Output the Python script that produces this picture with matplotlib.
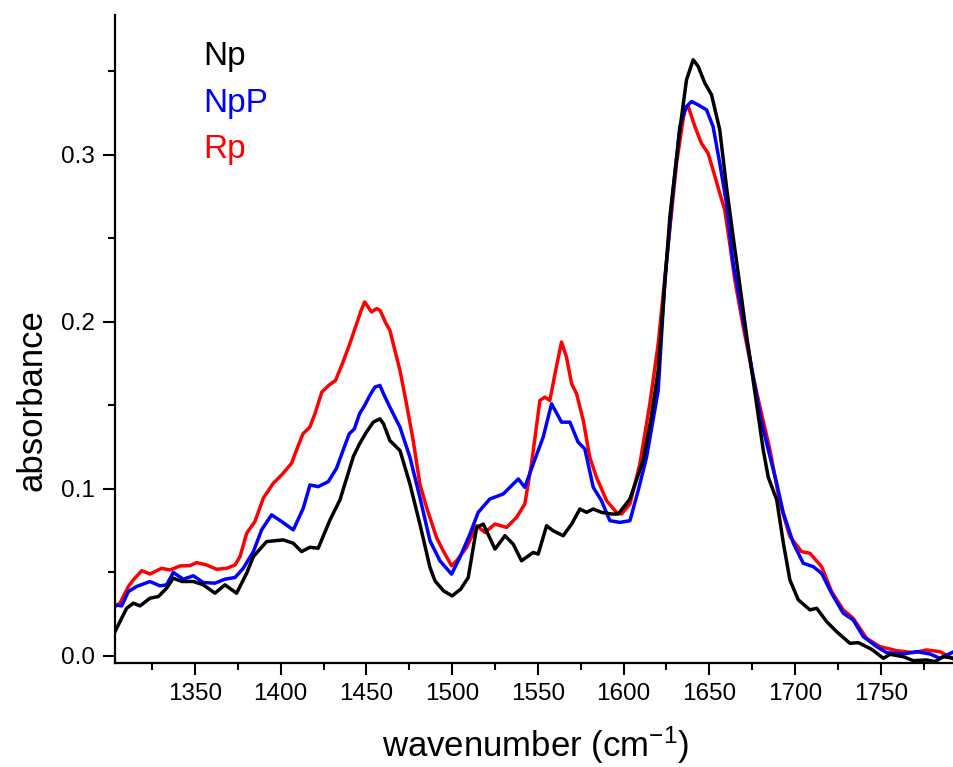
import matplotlib
matplotlib.use("Agg")
import matplotlib.pyplot as plt
from matplotlib.ticker import MultipleLocator, FormatStrFormatter

plt.rcParams['font.family'] = ['Liberation Sans', 'DejaVu Sans']
plt.rcParams['mathtext.default'] = 'regular'

# Np (black)
wn_np = [1303.4, 1310.2, 1314.1, 1318.0, 1323.8, 1328.7, 1333.5, 1337.4, 1342.3, 1349.1,
         1354.9, 1361.7, 1367.5, 1374.3, 1380.2, 1384.1, 1391.8, 1401.5, 1407.4, 1412.2,
         1417.1, 1421.9, 1428.8, 1434.6, 1442.4, 1446, 1450, 1454, 1457.9, 1460,
         1463.7, 1469.6, 1475.4, 1481.2, 1487.1, 1490.0, 1495, 1500, 1505, 1509.4,
         1514.3, 1518.2, 1525.0, 1530.8, 1535.6, 1540.5, 1547.3, 1550.2, 1555.1, 1558.9,
         1564.8, 1569.7, 1574.5, 1578.4, 1582.3, 1587.1, 1593.0, 1596.9, 1603.7, 1611.4,
         1616, 1620.2, 1627.0, 1632.8, 1636.7, 1640.6, 1643.5, 1647.4, 1651.3, 1656.1,
         1660.0, 1663.9, 1667.4, 1672, 1677, 1681.5, 1684.4, 1689.3, 1693.2, 1697.0,
         1701.9, 1708.7, 1712.6, 1718.4, 1724.2, 1732.0, 1736.9, 1744.7, 1751.5, 1755.3,
         1763.1, 1768.9, 1776.7, 1781.6, 1786.4, 1792.7]
abs_np = [0.0146, 0.0286, 0.0316, 0.0300, 0.0346, 0.0356, 0.0406, 0.0466, 0.0446, 0.0446,
          0.0426, 0.0376, 0.0426, 0.0376, 0.0496, 0.0595, 0.0685, 0.0695, 0.0675, 0.0625,
          0.0651, 0.0645, 0.0815, 0.0935, 0.1194, 0.127, 0.134, 0.140, 0.142, 0.139,
          0.129, 0.123, 0.103, 0.079, 0.053, 0.045, 0.039, 0.036, 0.040, 0.047,
          0.077, 0.079, 0.064, 0.072, 0.067, 0.057, 0.062, 0.061, 0.078, 0.075,
          0.072, 0.079, 0.088, 0.086, 0.088, 0.086, 0.085, 0.085, 0.094, 0.117,
          0.142, 0.171, 0.263, 0.315, 0.345, 0.357, 0.353, 0.343, 0.336, 0.315,
          0.281, 0.251, 0.225, 0.190, 0.155, 0.123, 0.107, 0.0935, 0.0675, 0.0455,
          0.0336, 0.0276, 0.0286, 0.0206, 0.0146, 0.0076, 0.0080, 0.0040, -0.0014, 0.0010,
          -0.0004, -0.0028, -0.0024, -0.0034, -0.0004, -0.0014]

# NpP (blue)
wn_npp = [1303.4, 1307.3, 1311.2, 1316.0, 1323.8, 1329.6, 1333.5, 1337.4, 1343.2, 1349.1,
          1354.9, 1361.7, 1367.5, 1373.4, 1378.2, 1384.1, 1388.9, 1394.7, 1400.6, 1407.4,
          1413.2, 1417.1, 1421.9, 1427.8, 1432.6, 1436.5, 1440, 1443, 1446, 1449,
          1452, 1455, 1457.9, 1460, 1463.7, 1469.6, 1475.4, 1481.2, 1487.1, 1492.9,
          1499.7, 1504.5, 1510.4, 1515.2, 1522.0, 1529.8, 1534.7, 1538.6, 1542.4, 1547.3,
          1553.1, 1558.0, 1563.8, 1568.7, 1573.5, 1577.4, 1582.3, 1587.1, 1592.0, 1597.8,
          1603.7, 1608.5, 1613.4, 1620.2, 1624.1, 1628.9, 1632.8, 1636.7, 1639.6, 1643.5,
          1648.4, 1652.2, 1656.1, 1660.0, 1663.9, 1670, 1676, 1680, 1684.4, 1689.3,
          1693.2, 1699.0, 1704.8, 1710.6, 1715.5, 1721.3, 1728.1, 1733.9, 1739.8, 1747.6,
          1753.4, 1763.1, 1770.9, 1778.7, 1784.5, 1792.7]
abs_npp = [0.0306, 0.0300, 0.0386, 0.0416, 0.0446, 0.0420, 0.0426, 0.0500, 0.0460, 0.0480,
           0.0440, 0.0436, 0.0460, 0.0470, 0.0525, 0.0625, 0.0755, 0.0845, 0.0805, 0.0755,
           0.0885, 0.1024, 0.1014, 0.1044, 0.1124, 0.1234, 0.133, 0.136, 0.145, 0.150,
           0.156, 0.161, 0.162, 0.157, 0.149, 0.137, 0.119, 0.095, 0.069, 0.057,
           0.049, 0.059, 0.073, 0.086, 0.094, 0.097, 0.102, 0.106, 0.101, 0.115,
           0.131, 0.151, 0.140, 0.140, 0.128, 0.124, 0.101, 0.093, 0.081, 0.080,
           0.081, 0.099, 0.119, 0.159, 0.225, 0.279, 0.317, 0.329, 0.332, 0.330,
           0.327, 0.317, 0.295, 0.271, 0.235, 0.200, 0.165, 0.142, 0.1234, 0.1034,
           0.0855, 0.0675, 0.0555, 0.0535, 0.0495, 0.0376, 0.0256, 0.0216, 0.0116, 0.0056,
           0.0020, 0.0012, 0.0026, 0.0012, -0.0014, 0.0026]

# Rp (red)
wn_rp = [1303.4, 1306.3, 1311.2, 1314.1, 1319.0, 1323.8, 1330.6, 1335.5, 1341.3, 1347.1,
         1351.0, 1356.8, 1362.7, 1368.5, 1373.4, 1376.3, 1380.2, 1385.0, 1389.9, 1395.7,
         1400.6, 1406.4, 1409.3, 1413, 1417, 1420, 1424, 1428, 1432, 1436,
         1440, 1444, 1447, 1449, 1451, 1453, 1456, 1458, 1461, 1463.7,
         1469.6, 1473.4, 1477.3, 1481.2, 1485.1, 1490.9, 1494.8, 1499.7, 1502.6, 1508.4,
         1514.3, 1519.1, 1525.0, 1531.8, 1537.6, 1542.4, 1546.3, 1551.2, 1554.1, 1557.0,
         1560.0, 1563.8, 1566.7, 1569.7, 1572.6, 1576.5, 1580.3, 1584.2, 1590.1, 1595.9,
         1598.8, 1603.7, 1609.5, 1615.3, 1620.2, 1624.1, 1630.9, 1635.7, 1637.7, 1641.6,
         1645.4, 1649.3, 1652.2, 1656.1, 1659.0, 1661.9, 1664.9, 1670, 1675, 1680,
         1685.4, 1691.2, 1697.0, 1703.8, 1708.7, 1715.5, 1721.3, 1728.1, 1733.9, 1741.7,
         1749.5, 1759.2, 1768.9, 1776.7, 1784.5, 1792.7]
abs_rp = [0.0296, 0.0316, 0.0416, 0.0456, 0.0511, 0.0491, 0.0525, 0.0515, 0.0539, 0.0541,
          0.0559, 0.0545, 0.0519, 0.0525, 0.0545, 0.0595, 0.0735, 0.0805, 0.0945, 0.1034,
          0.1084, 0.1154, 0.1234, 0.133, 0.137, 0.145, 0.158, 0.162, 0.165, 0.175,
          0.186, 0.198, 0.207, 0.212, 0.209, 0.206, 0.208, 0.207, 0.200, 0.195,
          0.171, 0.151, 0.129, 0.103, 0.089, 0.071, 0.063, 0.054, 0.057, 0.065,
          0.078, 0.074, 0.079, 0.077, 0.083, 0.091, 0.115, 0.153, 0.155, 0.153,
          0.169, 0.188, 0.179, 0.163, 0.157, 0.141, 0.119, 0.107, 0.093, 0.086,
          0.085, 0.091, 0.115, 0.151, 0.187, 0.227, 0.295, 0.328, 0.329, 0.317,
          0.307, 0.301, 0.291, 0.277, 0.267, 0.247, 0.225, 0.196, 0.170, 0.147,
          0.1234, 0.0915, 0.0715, 0.0625, 0.0615, 0.0535, 0.0386, 0.0276, 0.0226, 0.0106,
          0.0056, 0.0032, 0.0020, 0.0036, 0.0026, -0.0020]

fig = plt.figure(figsize=(9.54, 7.67), dpi=100)
ax = fig.add_axes([115 / 954, 1 - 663 / 767, 1 - 115 / 954, (663 - 15) / 767])

ax.plot(wn_rp, abs_rp, color='#ff0000', lw=2.5)
ax.plot(wn_npp, abs_npp, color='#0000ff', lw=2.5)
ax.plot(wn_np, abs_np, color='black', lw=2.5)

ax.set_xlim(1303.4, 1792.7)
ax.set_ylim(-0.0042, 0.3838)

ax.xaxis.set_major_locator(MultipleLocator(50))
ax.xaxis.set_minor_locator(MultipleLocator(25))
ax.yaxis.set_major_locator(MultipleLocator(0.1))
ax.yaxis.set_minor_locator(MultipleLocator(0.05))
ax.yaxis.set_major_formatter(FormatStrFormatter('%.1f'))

for s in ['top', 'right']:
    ax.spines[s].set_visible(False)
for s in ['left', 'bottom']:
    ax.spines[s].set_linewidth(1.6)

ax.tick_params(which='major', direction='out', length=8.5, width=1.5, labelsize=17.5, pad=6)
ax.tick_params(which='minor', direction='out', length=5, width=1.5)

# axis titles
fig.text(536 / 954, 1 - 757 / 767, 'wavenumber (cm$^{-1}$)', fontsize=25,
         ha='center', va='baseline')
fig.text(32 / 954, 1 - 400 / 767, 'absorbance', fontsize=25, rotation=90,
         ha='center', va='center')

# labels for the curves
names = ['Np', 'NpP', 'Rp']
colors = ['black', '#0000ff', '#ff0000']
baselines = [65, 112, 158]
for name, c, b in zip(names, colors, baselines):
    fig.text(203 / 954, 1 - b / 767, name, color=c, fontsize=24, va='baseline')

fig.savefig('out.png', dpi=100)
plt.close(fig)
